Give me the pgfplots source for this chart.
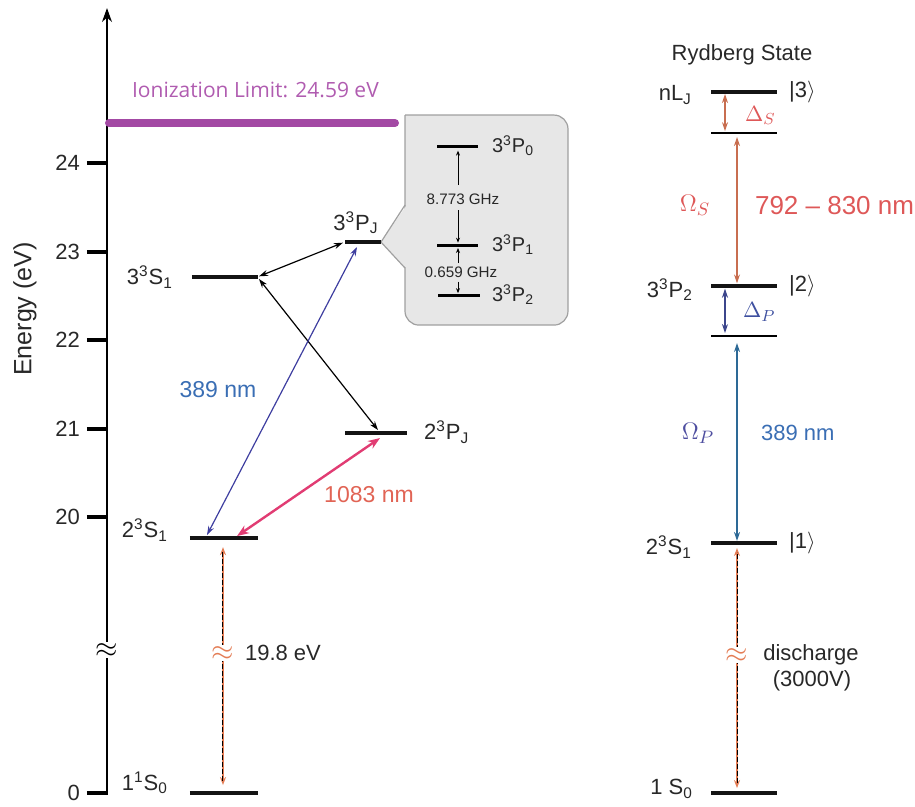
\documentclass[border=0pt]{standalone}
\usepackage{fontspec}
\setmainfont{Liberation Sans}
\newfontfamily\ionfont{Open Sans}
\usepackage{pgfplots}
\pgfplotsset{compat=1.18}
\usetikzlibrary{arrows.meta}

\definecolor{ionline}{RGB}{163,73,164}
\definecolor{iontext}{RGB}{176,92,176}
\definecolor{bluearr}{RGB}{62,62,160}
\definecolor{bluetext}{RGB}{58,110,180}
\definecolor{pinkarr}{RGB}{225,60,115}
\definecolor{redtext}{RGB}{225,100,85}
\definecolor{orangearr}{RGB}{228,125,85}
\definecolor{sarr}{RGB}{200,110,80}
\definecolor{stext}{RGB}{222,88,88}
\definecolor{parr}{RGB}{60,70,140}
\definecolor{ptext}{RGB}{62,80,160}
\definecolor{omparr}{RGB}{45,105,150}
\definecolor{omptext}{RGB}{78,78,160}
\definecolor{insetfill}{RGB}{231,231,231}
\definecolor{insetdraw}{RGB}{160,160,160}
\definecolor{txt}{RGB}{40,40,40}

\begin{document}
\begin{tikzpicture}[font=\fontsize{11}{13}\selectfont,
  every node/.append style={text=txt},
  lvl/.style={line width=2pt, color=black!92},
  sublvl/.style={line width=0.6pt, color=black},
  ar/.style={line width=0.6pt, {Stealth[length=4.5pt,width=3pt]}-{Stealth[length=4.5pt,width=3pt]}},
  sm/.style={line width=0.45pt, black, -{Stealth[length=2.5pt,width=2pt]}},
]
\begin{axis}[
  scale only axis, width=404pt, height=393.5pt,
  xmin=107, xmax=915, ymin=16.859, ymax=25.751,
  axis x line=none, axis y line=left,
  y axis line style={line width=0.7pt, -{Stealth[length=7pt,width=5pt]}},
  ytick={16.881,20,21,22,23,24}, yticklabels={0,20,21,22,23,24},
  tick align=outside, major tick length=10pt,
  ytick style={line width=2pt, black},
  yticklabel style={font=\fontsize{11}{13}\selectfont, text=txt},
  ylabel={Energy (eV)},
  ylabel style={at={(axis cs:25,22.35)}, anchor=center, text=txt, font=\fontsize{12.5}{14}\selectfont},
  clip=false,
]
\coordinate (bl) at (axis cs:0,16.734);
\coordinate (tr) at (axis cs:915,25.842);

% ionization limit
\addplot[line width=4pt, color=ionline, line cap=round] coordinates {(109,24.452)(395,24.452)};
\node[anchor=west, text=iontext, font=\ionfont\fontsize{10.5}{12}\selectfont] at (axis cs:125,24.825) {Ionization Limit: 24.59 eV};

% inset callout for 3^3P_J
\addplot[draw=insetdraw, fill=insetfill, line width=0.6pt, rounded corners=7pt]
  coordinates {(405,24.542)(568,24.542)(568,22.169)(405,22.169)(405,24.542)};
\addplot[draw=none, fill=insetfill] coordinates {(408,23.545)(381,23.107)(408,22.794)};
\addplot[draw=insetdraw, line width=0.6pt] coordinates {(405,23.525)(381,23.107)(405,22.814)};
\addplot[line width=1.5pt, black] coordinates {(437,24.192)(478,24.192)};
\addplot[line width=1.5pt, black] coordinates {(437,23.073)(478,23.073)};
\addplot[line width=1.5pt, black] coordinates {(438,22.508)(480,22.508)};
\addplot[sm] coordinates {(458,23.751)(458,24.14)};
\addplot[sm] coordinates {(458,23.469)(458,23.10)};
\addplot[sm] coordinates {(458,22.87)(458,23.04)};
\addplot[sm] coordinates {(458,22.66)(458,22.53)};
\node[font=\fontsize{7.6}{9}\selectfont] at (axis cs:463,23.595) {8.773 GHz};
\node[font=\fontsize{7.6}{9}\selectfont] at (axis cs:461,22.768) {0.659 GHz};
\node[anchor=west, font=\fontsize{10}{12}\selectfont] at (axis cs:485,24.20) {3\textsuperscript{3}P\textsubscript{0}};
\node[anchor=west, font=\fontsize{10}{12}\selectfont] at (axis cs:485,23.08) {3\textsuperscript{3}P\textsubscript{1}};
\node[anchor=west, font=\fontsize{10}{12}\selectfont] at (axis cs:485,22.51) {3\textsuperscript{3}P\textsubscript{2}};

% left diagram levels
\addplot[lvl] coordinates {(190,16.881)(258,16.881)};
\addplot[lvl] coordinates {(190,19.763)(258,19.763)};
\addplot[lvl] coordinates {(192,22.712)(258,22.712)};
\addplot[lvl] coordinates {(345,20.949)(407,20.949)};
\addplot[lvl] coordinates {(345,23.107)(381,23.107)};

% left diagram transitions
\addplot[ar, black] coordinates {(343,23.10)(259,22.72)};
\addplot[ar, black] coordinates {(259,22.69)(378,20.983)};
\addplot[ar, bluearr] coordinates {(207,19.797)(357,23.051)};
\addplot[line width=1.2pt, pinkarr, {Stealth[length=6pt,width=4.5pt]}-{Stealth[length=6pt,width=4.5pt]}]
  coordinates {(237,19.785)(380,20.893)};
\addplot[line width=0.9pt, orangearr, {Stealth[length=4pt,width=3pt]}-{Stealth[length=4pt,width=3pt]}]
  coordinates {(223,16.972)(223,19.66)};
\addplot[line width=0.5pt, black, dash pattern=on 2.5pt off 1pt] coordinates {(223,17.02)(223,19.60)};

% left labels
\node[anchor=east] at (axis cs:180,22.712) {3\textsuperscript{3}S\textsubscript{1}};
\node at (axis cs:356,23.322) {3\textsuperscript{3}P\textsubscript{J}};
\node[anchor=west] at (axis cs:417,20.96) {2\textsuperscript{3}P\textsubscript{J}};
\node[anchor=east] at (axis cs:175,19.853) {2\textsuperscript{3}S\textsubscript{1}};
\node[anchor=east] at (axis cs:175,16.994) {1\textsuperscript{1}S\textsubscript{0}};
\node[text=bluetext, font=\fontsize{11.5}{13}\selectfont] at (axis cs:218,21.435) {389 nm};
\node[text=redtext, font=\fontsize{11.5}{13}\selectfont] at (axis cs:369,20.249) {1083 nm};
\node[fill=white, inner sep=0.5pt, text=orangearr, font=\fontsize{15}{15}\selectfont] at (axis cs:223,18.463) {$\approx$};
\node[anchor=west] at (axis cs:238,18.463) {19.8 eV};
\node[fill=white, inner sep=0.5pt, text=black, font=\fontsize{15}{15}\selectfont] at (axis cs:107,18.497) {$\approx$};

% right diagram levels
\addplot[lvl] coordinates {(711,24.802)(777,24.802)};
\addplot[sublvl] coordinates {(711,24.339)(777,24.339)};
\addplot[lvl] coordinates {(711,22.610)(777,22.610)};
\addplot[sublvl] coordinates {(711,22.045)(777,22.045)};
\addplot[lvl] coordinates {(711,19.706)(777,19.706)};
\addplot[lvl] coordinates {(711,16.881)(777,16.881)};

% right diagram transitions
\addplot[ar, sarr] coordinates {(725,24.78)(725,24.36)};
\addplot[ar, sarr] coordinates {(737,24.294)(737,22.64)};
\addplot[ar, parr] coordinates {(725,22.58)(725,22.079)};
\addplot[ar, omparr] coordinates {(737,21.966)(737,19.73)};
\addplot[line width=0.9pt, orangearr, {Stealth[length=4pt,width=3pt]}-{Stealth[length=4pt,width=3pt]}]
  coordinates {(737,16.938)(737,19.65)};
\addplot[line width=0.5pt, black, dash pattern=on 2.5pt off 1pt] coordinates {(737,16.99)(737,19.60)};

% right labels
\node at (axis cs:742,25.22) {Rydberg State};
\node[anchor=east] at (axis cs:699,24.77) {nL\textsubscript{J}};
\node[anchor=west] at (axis cs:782,24.80) {|3$\rangle$};
\node[anchor=west, text=stext] at (axis cs:738,24.54) {$\Delta_S$};
\node[text=stext, font=\fontsize{13}{15}\selectfont] at (axis cs:695,23.52) {$\Omega_S$};
\node[anchor=west, text=stext, font=\fontsize{13}{15}\selectfont] at (axis cs:748,23.52) {792 -- 830 nm};
\node[anchor=east] at (axis cs:700,22.57) {3\textsuperscript{3}P\textsubscript{2}};
\node[anchor=west] at (axis cs:782,22.61) {|2$\rangle$};
\node[anchor=west, text=ptext] at (axis cs:736,22.316) {$\Delta_P$};
\node[text=omptext, font=\fontsize{13}{15}\selectfont] at (axis cs:698,20.95) {$\Omega_P$};
\node[anchor=west, text=bluetext] at (axis cs:754,20.95) {389 nm};
\node[anchor=east] at (axis cs:699,19.66) {2\textsuperscript{3}S\textsubscript{1}};
\node[anchor=west] at (axis cs:782,19.706) {|1$\rangle$};
\node[fill=white, inner sep=0.5pt, text=orangearr, font=\fontsize{15}{15}\selectfont] at (axis cs:737,18.441) {$\approx$};
\node at (axis cs:811,18.441) {discharge};
\node at (axis cs:812,18.15) {(3000V)};
\node[anchor=east] at (axis cs:700,16.93) {1 S\textsubscript{0}};
\end{axis}
\pgfresetboundingbox
\path[use as bounding box] (bl) rectangle (tr);
\end{tikzpicture}
\end{document}
